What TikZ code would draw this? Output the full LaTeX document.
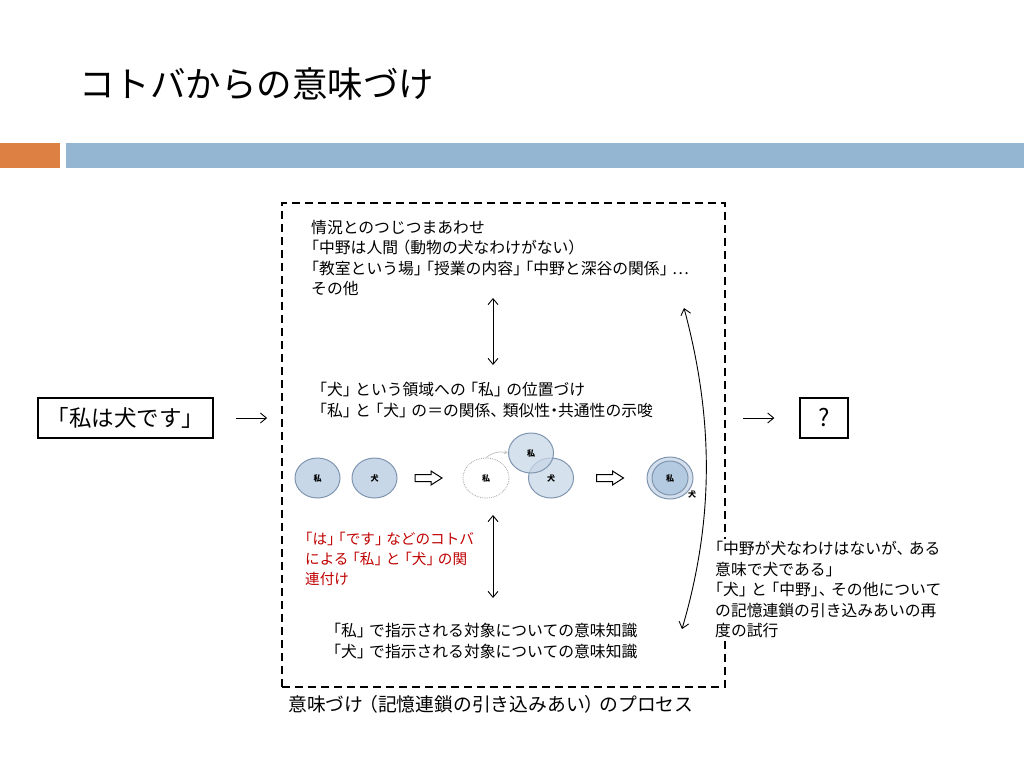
\documentclass[tikz,border=0pt]{standalone}
\usepackage{fontspec}
\setmainfont[RawFeature={+halt}]{Noto Sans CJK JP}
\usetikzlibrary{arrows.meta,shapes.geometric,calc}
% widen half-width brackets a little (about three quarters of an em)
\XeTeXinterchartokenstate=1
\newXeTeXintercharclass\clsopen
\newXeTeXintercharclass\clsclose
\XeTeXcharclass`「=\clsopen
\XeTeXcharclass`（=\clsopen
\XeTeXcharclass`」=\clsclose
\XeTeXcharclass`）=\clsclose
\XeTeXcharclass`、=\clsclose
\XeTeXinterchartoks 0 \clsopen={\kern0.28em}
\XeTeXinterchartoks 1 \clsopen={\kern0.28em}
\XeTeXinterchartoks \clsclose 0={\kern0.28em}
\XeTeXinterchartoks \clsclose 1={\kern0.28em}
\XeTeXinterchartoks \clsclose \clsopen={\kern0.28em}
\definecolor{barorange}{RGB}{221,128,67}
\definecolor{barblue}{RGB}{148,182,210}
\definecolor{cfill}{RGB}{200,215,232}
\definecolor{cline}{RGB}{128,150,176}
\definecolor{cinner}{RGB}{180,202,224}
\definecolor{redtxt}{RGB}{192,0,0}
\tikzset{
  txt/.style={font=\fontsize{15.8}{20.5}\selectfont, align=left, inner sep=0pt, anchor=north west},
  procbox/.style={draw, line width=1.8pt, dash pattern=on 8pt off 5pt},
  sbox/.style={draw, line width=1.3pt, inner sep=0pt},
  arr/.style={-{Straight Barb[length=6pt,width=10pt]}, line width=0.9pt},
  darr/.style={{Straight Barb[length=6pt,width=10pt]}-{Straight Barb[length=6pt,width=10pt]}, line width=0.9pt},
  blob/.style={ellipse, draw=cline, line width=1pt, fill=cfill, minimum width=45pt, minimum height=40pt, inner sep=0pt, font=\fontsize{8}{8}\selectfont\bfseries},
  hollow/.style={draw, line width=1pt, fill=white, line join=miter}
}
\newcommand{\hollowarrow}[1]{%
  \draw[hollow] ($(#1)+(-13.5,-3.5)$) -- ++(16,0) -- ++(0,-3.5) -- ++(11,7) -- ++(-11,7) -- ++(0,-3.5) -- ++(-16,0) -- cycle;}
\begin{document}
\begin{tikzpicture}[x=1pt,y=-1pt]
\useasboundingbox (0,0) rectangle (1024,768);
\fill[white] (0,0) rectangle (1024,768);
% title and bars
\node[anchor=west, inner sep=0pt, font=\fontsize{35.5}{40}\selectfont] (title) at (79,84) {コトバからの意味づけ};
\fill[barorange] (0,143) rectangle (60,168);
\fill[barblue] (66,143) rectangle (1024,168);
% process box
\node[procbox, minimum width=443pt, minimum height=484pt, inner sep=0pt] (proc) at (503.5,445) {};
\node[anchor=west, inner sep=0pt, font=\fontsize{18.8}{22}\selectfont] (cap) at (288,704) {意味づけ（記憶連鎖の引き込みあい）のプロセス};
% texts
\node[txt] (ctx) at (311,220) {情況とのつじつまあわせ\\「中野は人間（動物の犬なわけがない）\\「教室という場」「授業の内容」「中野と深谷の関係」…\\その他};
\node[txt] (mid) at (319,382) {「犬」という領域への「私」の位置づけ\\「私」と「犬」の＝の関係、類似性・共通性の示唆};
\node[txt, text=redtxt, font=\fontsize{14.6}{20.2}\selectfont] (red) at (305,532) {「は」「です」などのコトバ\\による「私」と「犬」の関\\連付け};
\node[txt] (know) at (333,623) {「私」で指示される対象についての意味知識\\「犬」で指示される対象についての意味知識};
\node[txt, fill=white, inner sep=2pt] (retry) at (713,539) {「中野が犬なわけはないが、ある\\意味で犬である」\\「犬」と「中野」、その他について\\の記憶連鎖の引き込みあいの再\\度の試行};
% vertical double arrows
\coordinate (v1t) at (493,298); \coordinate (v1b) at (493,365);
\coordinate (v2t) at (493,515); \coordinate (v2b) at (493,598);
\draw[darr] (v1t) -- (v1b);
\draw[darr] (v2t) -- (v2b);
% curved double arrow
\coordinate (cT) at (684,308); \coordinate (cB) at (682,629);
\draw[darr] (cT) .. controls (714,420) and (714,520) .. (cB);
% sentence and result
\node[sbox, minimum width=175pt, minimum height=40pt, font=\fontsize{22.5}{26}\selectfont] (src) at (125.5,418) {「私は犬です」};
\node[sbox, minimum width=48pt, minimum height=40pt, font=\fontsize{24}{26}\selectfont] (q) at (824,418) {?};
\draw[arr] ([xshift=22pt]src.east) -- ([xshift=-14pt]proc.west |- src.east);
\draw[arr] ([xshift=17pt]proc.east |- q.west) -- ([xshift=-25pt]q.west);
% circles
\node[blob] (w1) at (317.5,478) {私};
\node[blob] (d1) at (374.5,478) {犬};
\coordinate (h1) at (428.5,478);
\hollowarrow{h1}
\node[ellipse, draw=gray!70, densely dotted, line width=0.8pt, minimum width=46pt, minimum height=40pt, inner sep=0pt, font=\fontsize{8}{8}\selectfont\bfseries] (w0) at (486,478) {私};
\node[blob, fill opacity=0.75, text opacity=1] (d2) at (551,478) {犬};
\node[blob, fill opacity=0.75, text opacity=1] (w2) at (531,453) {私};
\draw[gray!45, line width=0.8pt, -{Stealth[length=4pt,width=4pt]}] (w0.north) to[bend left=25] (w2.west);
\coordinate (h2) at (610,478);
\hollowarrow{h2}
\node[ellipse, draw=cline, line width=1pt, fill=cfill!80!white, minimum width=46pt, minimum height=42pt, inner sep=0pt] (d3) at (670,478) {};
\node[blob, fill=cinner, minimum width=36pt, minimum height=34pt] (w3) at (670,478) {私};
\node[inner sep=0pt, font=\fontsize{8}{8}\selectfont\bfseries] (d3l) at (692,494) {犬};
\end{tikzpicture}
\end{document}
